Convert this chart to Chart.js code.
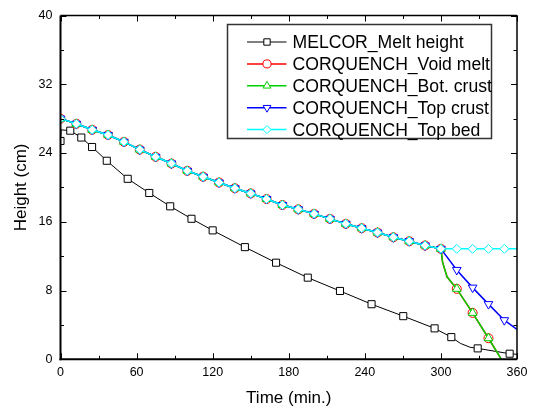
<!DOCTYPE html>
<html lang="en">
<head>
<meta charset="UTF-8">
<title>Melt height</title>
<script src="https://cdn.jsdelivr.net/npm/chart.js"></script>
<style>
  body { margin: 0; background: #fff; }
</style>
</head>
<body>
<canvas id="heightChart" width="536" height="411"></canvas>
<script>
// MELCOR melt height (time in min, height in cm)
const melcorTime   = [0, 0.5, 7.7, 16.4, 24.9, 36.5, 53, 70, 86.5, 103.3, 120, 145.4, 170, 195, 220.4, 245.3, 270.3, 295, 308.2, 315.4, 323, 329, 354.2, 360];
const melcorHeight = [25.4, 26.7, 26.6, 25.8, 24.7, 23.1, 21.0, 19.35, 17.8, 16.35, 15.0, 13.05, 11.24, 9.5, 7.95, 6.41, 5.02, 3.6, 2.58, 1.85, 1.4, 1.27, 0.65, 0.58];
// points of the MELCOR curve that carry no marker
const melcorNoMarker = [0.5, 315.4, 323, 360];

// CORQUENCH: all four traces sit on the same bed level until 300 min
const bedTime   = [0, 12.5, 25, 37.5, 50, 62.5, 75, 87.5, 100, 112.5, 125, 137.5, 150, 162.5, 175, 187.5, 200, 212.5, 225, 237.5, 250, 262.5, 275, 287.5, 300];
const bedHeight = [28.0, 27.4, 26.7, 26.1, 25.3, 24.4, 23.56, 22.78, 21.93, 21.24, 20.57, 19.9, 19.3, 18.65, 17.95, 17.45, 16.92, 16.34, 15.76, 15.25, 14.75, 14.2, 13.74, 13.24, 12.85];

// after 300 min
const topBedTime     = [312.5, 325, 337.5, 350, 360];
const topBedHeight   = [12.85, 12.85, 12.85, 12.85, 12.85];
const topCrustTime   = [312.5, 325, 337.5, 350, 360];
const topCrustHeight = [10.4, 8.34, 6.42, 4.55, 3.48];
const botCrustTime   = [301.3, 304.8, 312.5, 325, 337.5, 347.7];
const botCrustHeight = [11.3, 9.6, 8.2, 5.4, 2.45, 0];
const voidMeltTime   = [301.3, 304.8, 312.5, 325, 337.5, 347.7];
const voidMeltHeight = [11.3, 9.6, 8.2, 5.4, 2.45, 0];

const xTicks = [0, 60, 120, 180, 240, 300, 360];
const yTicks = [0, 8, 16, 24, 32, 40];

const FONT = '"Liberation Sans", Arial, sans-serif';

function pts(t, h) {
    return t.map((v, i) => ({ x: v, y: h[i] }));
}
function corq(t, h) {
    return pts(bedTime.concat(t), bedHeight.concat(h));
}
// CORQUENCH markers every 12.5 min
function corqRadius(r) {
    return c => (c.raw && Number.isInteger(c.raw.x / 12.5) && c.raw.x < 360) ? r : 0;
}

const series = [
    { label: 'MELCOR_Melt height', color: '#000000', style: 'rect', radius: 5, rot: 0, width: 1, order: 5,
      data: pts(melcorTime, melcorHeight),
      radiusFn: c => (c.raw && melcorNoMarker.includes(c.raw.x)) ? 0 : 5 },
    { label: 'CORQUENCH_Void melt', color: '#ff0000', style: 'circle', radius: 4.5, rot: 0, width: 1.5, order: 4,
      data: corq(voidMeltTime, voidMeltHeight), radiusFn: corqRadius(4.5) },
    { label: 'CORQUENCH_Bot. crust', color: '#00d000', style: 'triangle', radius: 5, rot: 0, width: 1.5, order: 3,
      data: corq(botCrustTime, botCrustHeight), radiusFn: corqRadius(5) },
    { label: 'CORQUENCH_Top crust', color: '#0000ff', style: 'triangle', radius: 5, rot: 180, width: 1.5, order: 2,
      data: corq(topCrustTime, topCrustHeight), radiusFn: corqRadius(5) },
    { label: 'CORQUENCH_Top bed', color: '#00ffff', style: 'rectRot', radius: 4.5, rot: 0, width: 1.5, order: 1,
      data: corq(topBedTime, topBedHeight), radiusFn: corqRadius(4.5) }
];

// frame with inward major/minor ticks on all four sides
const framePlugin = {
    id: 'frame',
    afterDatasetsDraw(chart) {
        const { ctx, chartArea: a, scales: { x, y } } = chart;
        const seg = (x1, y1, x2, y2) => { ctx.beginPath(); ctx.moveTo(x1, y1); ctx.lineTo(x2, y2); ctx.stroke(); };
        ctx.save();
        ctx.strokeStyle = '#000';
        ctx.lineWidth = 1;
        const xStep = (xTicks[1] - xTicks[0]) / 2;
        for (let v = xTicks[0]; v <= xTicks[xTicks.length - 1]; v += xStep) {
            const px = Math.round(x.getPixelForValue(v)) + 0.5;
            const len = xTicks.includes(v) ? 6 : 3.5;
            seg(px, a.bottom, px, a.bottom - len);
            seg(px, a.top, px, a.top + len);
        }
        const yStep = (yTicks[1] - yTicks[0]) / 2;
        for (let v = yTicks[0]; v <= yTicks[yTicks.length - 1]; v += yStep) {
            const py = Math.round(y.getPixelForValue(v)) + 0.5;
            const len = yTicks.includes(v) ? 6 : 3.5;
            seg(a.left, py, a.left + len, py);
            seg(a.right, py, a.right - len, py);
        }
        ctx.lineWidth = 1.5;
        seg(a.left, a.top, a.right, a.top);
        seg(a.right, a.top, a.right, a.bottom);
        ctx.lineWidth = 2;
        seg(a.left, a.top, a.left, a.bottom + 1);
        seg(a.left - 1, a.bottom, a.right, a.bottom);
        ctx.restore();
    }
};

// boxed legend in the upper right, line sample with marker
const legendPlugin = {
    id: 'boxLegend',
    afterDraw(chart) {
        const { ctx, chartArea: a } = chart;
        const left = a.left + 167, top = a.top + 9, w = 264, h = 114;
        ctx.save();
        ctx.fillStyle = '#fff';
        ctx.fillRect(left, top, w, h);
        ctx.strokeStyle = '#333';
        ctx.lineWidth = 1.5;
        ctx.strokeRect(left, top, w, h);
        ctx.font = '17.6px ' + FONT;
        ctx.textBaseline = 'alphabetic';
        series.forEach((s, i) => {
            const cy = top + 17.5 + i * 21.9;
            ctx.strokeStyle = s.color;
            ctx.lineWidth = s.width;
            ctx.beginPath();
            ctx.moveTo(left + 19.5, cy);
            ctx.lineTo(left + 59, cy);
            ctx.stroke();
            ctx.fillStyle = '#fff';
            ctx.lineWidth = 1;
            Chart.helpers.drawPoint(ctx, { pointStyle: s.style, radius: s.radius * 0.9, rotation: s.rot, borderWidth: 1 }, left + 39.5, cy);
            ctx.fillStyle = '#000';
            ctx.fillText(s.label, left + 65, cy + 6.3);
        });
        ctx.restore();
    }
};

const ctx = document.getElementById('heightChart').getContext('2d');
new Chart(ctx, {
    type: 'line',
    data: {
        datasets: series.map(s => ({
            label: s.label,
            data: s.data,
            order: s.order,
            borderColor: s.color,
            borderWidth: s.width,
            pointStyle: s.style,
            pointRotation: s.rot,
            pointRadius: s.radiusFn,
            pointBorderColor: s.color,
            pointBackgroundColor: '#fff',
            pointBorderWidth: 1,
            tension: 0,
            fill: false
        }))
    },
    options: {
        responsive: false,
        animation: false,
        layout: { padding: { left: 0, top: 14, right: 19, bottom: 0 } },
        plugins: { legend: { display: false }, tooltip: { enabled: false } },
        scales: {
            x: {
                type: 'linear',
                min: xTicks[0],
                max: xTicks[xTicks.length - 1],
                grid: { display: false, drawTicks: false },
                border: { display: false },
                afterFit: s => { s.height = 51.7; },
                ticks: { stepSize: 60, autoSkip: false, maxRotation: 0, padding: 5.5, color: '#000', font: { family: FONT, size: 12.5 } },
                title: { display: true, text: 'Time (min.)', color: '#000', font: { family: FONT, size: 17, weight: 'normal' }, padding: { top: 0, bottom: 2 } }
            },
            y: {
                type: 'linear',
                min: yTicks[0],
                max: yTicks[yTicks.length - 1],
                grid: { display: false, drawTicks: false },
                border: { display: false },
                afterFit: s => { s.width = 60.5; },
                ticks: { stepSize: 8, padding: 8, color: '#000', font: { family: FONT, size: 12.5 } },
                title: { display: true, text: 'Height (cm)', color: '#000', font: { family: FONT, size: 17, weight: 'normal' }, padding: { top: 11, bottom: 0 } }
            }
        }
    },
    plugins: [framePlugin, legendPlugin]
});
</script>
</body>
</html>
